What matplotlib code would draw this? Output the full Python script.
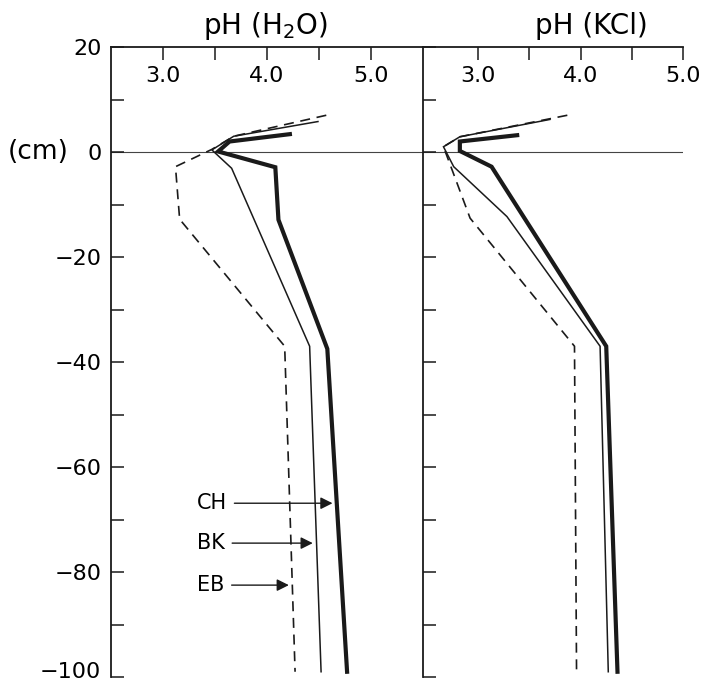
import matplotlib
matplotlib.use("Agg")
import matplotlib.pyplot as plt
from matplotlib.ticker import FixedLocator
from matplotlib.transforms import ScaledTranslation

plt.rcParams["font.family"] = ["DejaVu Sans"]

# pH (H2O) profiles, depth in cm (positive = litter layers above mineral soil)
depth_eb_h2o = [7.0, 3.0, 0.5, -2.8, -12.8, -37.0, -99.0]
ph_eb_h2o = [4.57, 3.68, 3.47, 3.12, 3.16, 4.17, 4.27]
depth_bk_h2o = [5.8, 3.0, 0.4, -3.1, -37.0, -99.0]
ph_bk_h2o = [4.49, 3.68, 3.47, 3.66, 4.41, 4.52]
depth_ch_h2o = [3.4, 2.0, 0.1, -2.9, -12.9, -37.5, -99.0]
ph_ch_h2o = [4.22, 3.64, 3.53, 4.08, 4.11, 4.58, 4.77]

# pH (KCl) profiles
depth_eb_kcl = [7.0, 2.9, 1.0, -12.6, -37.0, -99.0]
ph_eb_kcl = [3.87, 2.82, 2.66, 2.92, 3.94, 3.96]
depth_bk_kcl = [6.2, 2.9, 1.0, -2.8, -12.3, -37.0, -99.0]
ph_bk_kcl = [3.70, 2.82, 2.66, 2.76, 3.28, 4.19, 4.27]
depth_ch_kcl = [3.2, 2.0, 0.2, -2.8, -37.0, -99.0]
ph_ch_kcl = [3.38, 2.82, 2.82, 3.13, 4.25, 4.36]

# arrow labels on the H2O panel
site_labels = ["CH", "BK", "EB"]
label_depths = [-66.9, -74.5, -82.5]
arrow_tips = [4.63, 4.44, 4.21]
label_x = 3.33

y_ticks = list(range(-100, 21, 20))
y_minor = list(range(-90, 20, 20))

W, H = 703, 685
fig = plt.figure(figsize=(W / 100, H / 100), dpi=100)
fig.patch.set_facecolor("white")
ax1 = fig.add_axes([111 / W, 8 / H, 312 / W, 630 / H])
ax2 = fig.add_axes([423 / W, 8 / H, 260 / W, 630 / H])

ink = "#1a1a1a"
thin = dict(color=ink, lw=1.1, solid_joinstyle="miter")
thick = dict(color=ink, lw=3.0, solid_joinstyle="miter")
dashed = dict(color=ink, lw=1.2, linestyle=(0, (6, 4)))

ax1.plot(ph_eb_h2o, depth_eb_h2o, **dashed)
ax1.plot(ph_bk_h2o, depth_bk_h2o, **thin)
ax1.plot(ph_ch_h2o, depth_ch_h2o, **thick)

ax2.plot(ph_eb_kcl, depth_eb_kcl, **dashed)
ax2.plot(ph_bk_kcl, depth_bk_kcl, **thin)
ax2.plot(ph_ch_kcl, depth_ch_kcl, **thick)

ax1.set_xlim(2.5, 5.5)
ax2.set_xlim(2.46, 5.0)

for ax in (ax1, ax2):
    ax.axhline(0, color="#444444", lw=0.8, zorder=0)
    ax.set_ylim(-100, 20)
    ax.spines["right"].set_visible(False)
    ax.spines["bottom"].set_visible(False)
    ax.spines["left"].set_linewidth(1.3)
    ax.spines["top"].set_linewidth(1.3)
    ax.spines["left"].set_color(ink)
    ax.spines["top"].set_color(ink)
    ax.xaxis.set_major_locator(FixedLocator([3.0, 4.0, 5.0]))
    ax.xaxis.set_minor_locator(FixedLocator([3.5, 4.5]))
    ax.set_xticklabels(["3.0", "4.0", "5.0"])
    ax.yaxis.set_major_locator(FixedLocator(y_ticks))
    ax.yaxis.set_minor_locator(FixedLocator(y_minor))
    ax.tick_params(axis="x", which="both", top=True, bottom=False, labeltop=True,
                   labelbottom=False, direction="in", length=9, width=1.1,
                   color=ink, labelsize=16, pad=-28)
    ax.tick_params(axis="y", which="both", left=True, right=False, direction="in",
                   length=9, width=1.1, color=ink, labelsize=16, pad=7)

ax2.tick_params(axis="y", labelleft=False)

# the lowest label sits right on the figure edge; lift it a little
fig.canvas.draw()
low = ax1.get_yticklabels()[0]
low.set_transform(low.get_transform() + ScaledTranslation(0, 5 / 72, fig.dpi_scale_trans))

ax1.text(0.494, 1.02, "pH (H$_2$O)", transform=ax1.transAxes, ha="center",
         va="baseline", fontsize=20)
ax2.text(0.646, 1.02, "pH (KCl)", transform=ax2.transAxes, ha="center",
         va="baseline", fontsize=20)
ax1.text(-0.234, 0, "(cm)", transform=ax1.get_yaxis_transform(), ha="center",
         va="center", fontsize=19)

for name, d, tip in zip(site_labels, label_depths, arrow_tips):
    ax1.annotate(name, xy=(tip, d), xytext=(label_x, d), ha="left", va="center",
                 fontsize=15,
                 arrowprops=dict(arrowstyle="-|>", color=ink, lw=1.0,
                                 mutation_scale=18, shrinkA=3, shrinkB=0))

fig.savefig("out.png", dpi=100, facecolor="white")
